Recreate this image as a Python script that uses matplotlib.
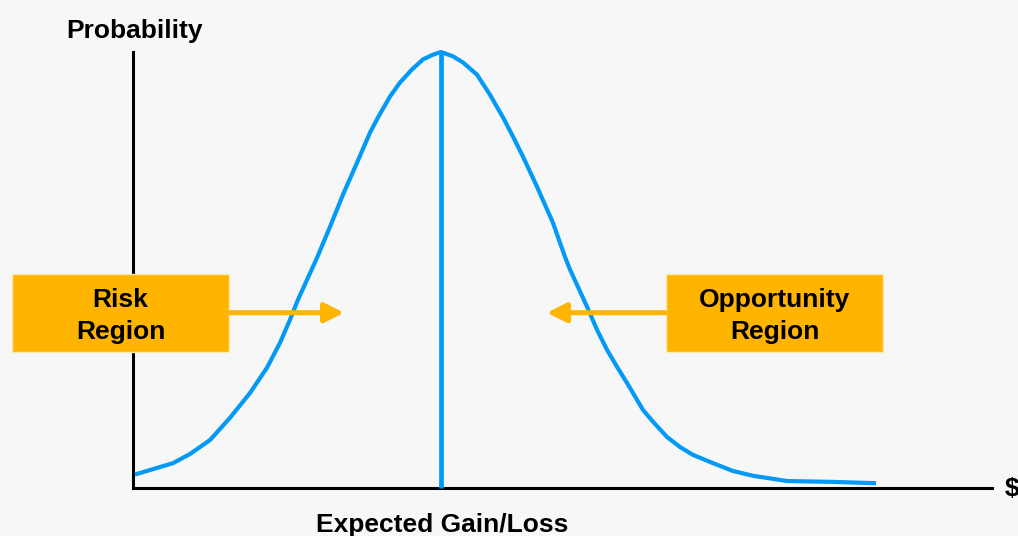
import matplotlib
matplotlib.use("Agg")
import matplotlib.pyplot as plt
from matplotlib.patches import Rectangle

# Probability curve of expected gain/loss (gain in units, probability normalised to the peak)
gain = [-3.05, -2.83, -2.67, -2.50, -2.30, -2.10, -1.90, -1.73, -1.60, -1.50,
        -1.42, -1.23, -1.10, -0.97, -0.83, -0.70, -0.62, -0.50, -0.40, -0.28,
        -0.17, -0.07, 0.01, 0.13, 0.23, 0.37, 0.50, 0.63, 0.73, 0.83,
        0.97, 1.13, 1.25, 1.30, 1.47, 1.57, 1.67, 1.77, 1.87, 2.03,
        2.13, 2.27, 2.40, 2.53, 2.73, 2.93, 3.13, 3.47, 3.93, 4.36]
probability = [0.031, 0.046, 0.057, 0.078, 0.110, 0.161, 0.218, 0.276, 0.333, 0.386,
               0.432, 0.528, 0.599, 0.673, 0.746, 0.815, 0.850, 0.898, 0.930, 0.960,
               0.983, 0.994, 1.000, 0.990, 0.976, 0.948, 0.902, 0.850, 0.806, 0.760,
               0.691, 0.608, 0.530, 0.501, 0.416, 0.363, 0.317, 0.278, 0.241, 0.179,
               0.152, 0.117, 0.094, 0.076, 0.057, 0.039, 0.028, 0.016, 0.014, 0.011]
expected_gain = 0.01

# Region callouts: label, box extent (x0, x1, y0, y1), arrow start and end gain
region_labels = ["Risk\nRegion", "Opportunity\nRegion"]
region_boxes = [(-4.28, -2.11, 0.312, 0.491), (2.26, 4.43, 0.312, 0.491)]
region_arrows = [(-2.10, -0.96), (2.25, 1.07)]
arrow_level = 0.402

BLUE = "#0399f7"
ORANGE = "#ffb400"
BG = "#f7f7f7"
FONT = "Liberation Sans"

W, H = 1018, 536
fig = plt.figure(figsize=(W / 100, H / 100), dpi=100, facecolor=BG)
ax = fig.add_axes([133 / W, (H - 488) / H, (992 - 133) / W, (488 - 52) / H])
ax.set_facecolor(BG)
ax.set_xlim(-3.07, 5.52)
ax.set_ylim(0, 1.0)

for side in ("top", "right"):
    ax.spines[side].set_visible(False)
for side in ("left", "bottom"):
    ax.spines[side].set_linewidth(2.2)
    ax.spines[side].set_color("black")
ax.set_xticks([])
ax.set_yticks([])

# bell curve and expected value marker
ax.plot(gain, probability, color=BLUE, lw=3.0, clip_on=False, solid_joinstyle="round",
        solid_capstyle="butt", zorder=3)
ax.plot([expected_gain, expected_gain], [0, max(probability)], color=BLUE, lw=3.4,
        clip_on=False, solid_capstyle="butt", zorder=3)

# callout boxes with arrows
for label, (x0, x1, y0, y1), (xs, xe) in zip(region_labels, region_boxes, region_arrows):
    ax.add_patch(Rectangle((x0, y0), x1 - x0, y1 - y0, facecolor=ORANGE,
                           edgecolor="#ffe9b0", lw=1.0, clip_on=False, zorder=4))
    ax.text((x0 + x1) / 2, (y0 + y1) / 2 - 0.007, label, ha="center", va="center",
            fontsize=19, fontweight="bold", family=FONT, linespacing=1.4,
            color="black", zorder=5, clip_on=False)
    ax.annotate("", xy=(xe, arrow_level), xytext=(xs, arrow_level),
                arrowprops=dict(arrowstyle="-|>,head_length=1.15,head_width=0.58",
                                mutation_scale=10, lw=3.6, color=ORANGE,
                                shrinkA=0, shrinkB=0),
                annotation_clip=False, zorder=4)

# axis captions
fig.text(134 / W, 1 - 31 / H, "Probability", ha="center", va="center",
         fontsize=19, fontweight="bold", family=FONT)
fig.text(442 / W, 1 - 525 / H, "Expected Gain/Loss", ha="center", va="center",
         fontsize=19, fontweight="bold", family=FONT)
fig.text(1005 / W, 1 - 489 / H, "$", ha="left", va="center",
         fontsize=19, fontweight="bold", family=FONT)

fig.savefig("out.png", dpi=100, facecolor=BG)
